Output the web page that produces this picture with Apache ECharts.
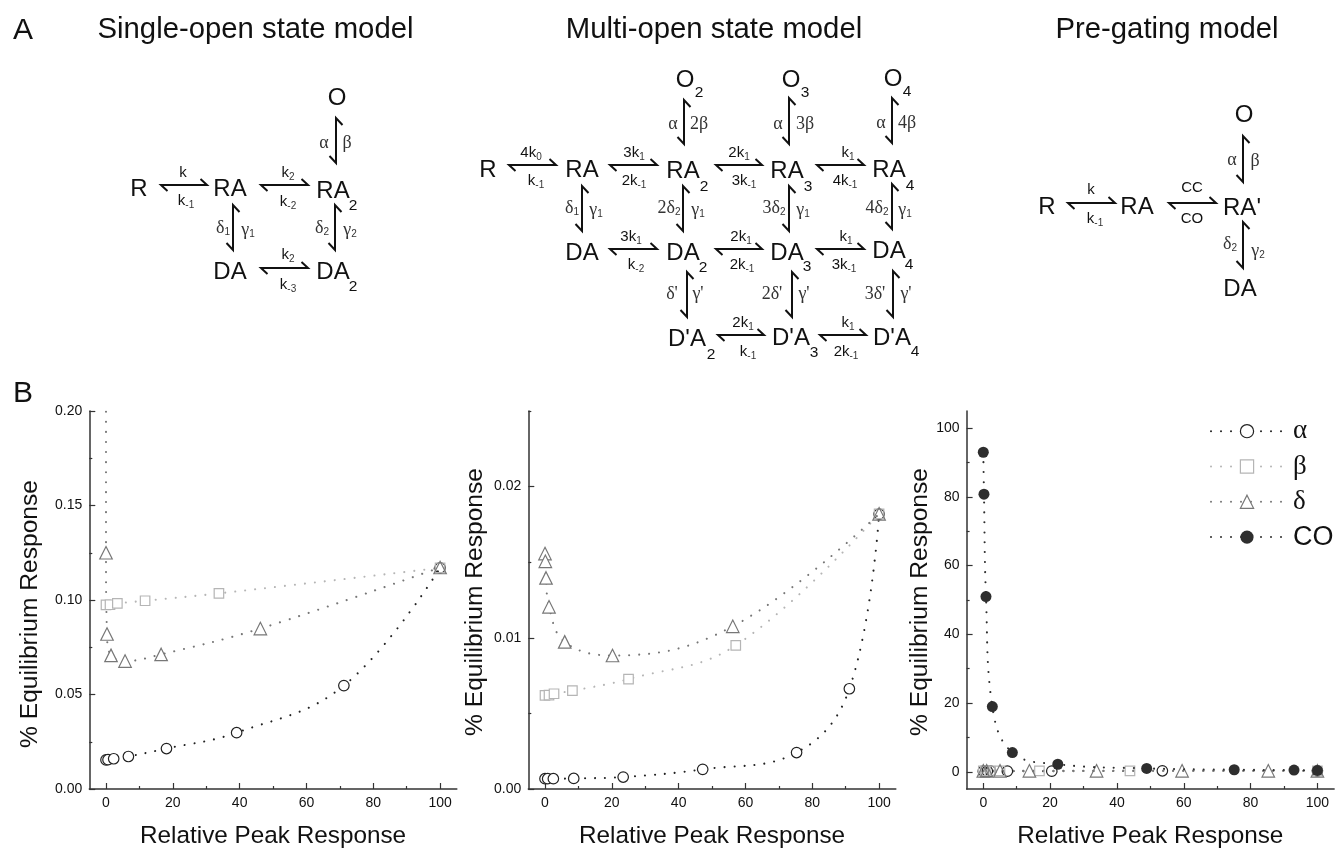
<!DOCTYPE html>
<html><head><meta charset="utf-8">
<style>html,body{margin:0;padding:0;background:#fff}#c{width:1338px;height:849px}</style>
<script src="https://cdn.jsdelivr.net/npm/echarts@6/dist/echarts.min.js"></script>
</head><body><div id="c"></div>
<script>
// ---- chart values (x = relative peak response, y = % equilibrium response) ----
const p1Alpha = [[0,0.0154],[0.6,0.0155],[2.3,0.016],[6.7,0.0172],[18.1,0.0214],[39.1,0.0298],[71.2,0.0547],[100,0.117]];
const p1Beta  = [[0,0.0974],[1.2,0.0975],[3.4,0.0982],[11.7,0.0996],[33.8,0.1035],[100,0.117]];
const p1Delta = [[0,0.3],[0,0.125],[0.3,0.082],[1.5,0.0707],[5.7,0.0677],[16.5,0.0712],[46.2,0.0849],[100,0.1172]];
const p2Alpha = [[0,0.00068],[0.8,0.00068],[2.5,0.00068],[8.6,0.0007],[23.4,0.00079],[47.2,0.0013],[75.3,0.00241],[91.1,0.00663],[100,0.01818]];
const p2Beta  = [[0,0.00619],[1.2,0.00621],[2.7,0.0063],[8.2,0.0065],[25,0.00727],[57.1,0.0095],[100,0.0182]];
const p2Delta = [[0,0.01557],[0.1,0.01506],[0.3,0.01396],[1.2,0.01205],[5.9,0.00973],[20.2,0.00883],[56.2,0.01076],[100,0.0182]];
const p3Alpha = [[0,0.2],[1.2,0.2],[2.2,0.2],[7.2,0.2],[20.5,0.2],[53.6,0.3],[100,0.3]];
const p3Beta  = [[0,0.3],[0.6,0.3],[2,0.3],[5,0.3],[16.8,0.3],[43.9,0.3],[100,0.3]];
const p3Delta = [[0,0.3],[1,0.3],[5,0.3],[13.8,0.3],[33.9,0.3],[59.5,0.3],[85.3,0.3],[100,0.3]];
const p3CO    = [[0,93],[0.2,80.8],[0.8,51],[2.7,19],[8.7,5.6],[22.3,2.2],[48.9,1],[75.1,0.6],[93,0.5],[100,0.4]];
const xMajor = [0,20,40,60,80,100];
const xMinor = [10,30,50,70,90];
const y1Major = [0,0.05,0.10,0.15,0.20];
const y1Minor = [0.025,0.075,0.125,0.175];
const y2Major = [0,0.01,0.02];
const y2Minor = [0.005,0.015,0.025];
const y3Major = [0,20,40,60,80,100];
const y3Minor = [10,30,50,70,90];
const xName = 'Relative Peak Response';
const yName = '% Equilibrium Response';
const seriesNames = ['α','β','δ','CO'];

const SANS = '"Liberation Sans", Arial, sans-serif';
const SERIF = '"Liberation Serif", "Times New Roman", serif';
const INK = '#111';
const AXIS = '#333';
const colors = {'α':'#222','β':'#b5b5b5','δ':'#777','CO':'#2e2e2e'};
const symbols = {'α':'circle','β':'rect','δ':'triangle','CO':'circle'};
const sizes = {'α':10.5,'β':9.5,'δ':12.5,'CO':11};
const CLEAR = 'rgba(255,255,255,0)';

const panels = [
  {left:89.3, major:y1Major, minor:y1Minor, min:0, max:0.20, fmt:v=>v.toFixed(2), gap:59, shift:28, solid:true,
   data:{'α':p1Alpha,'β':p1Beta,'δ':p1Delta}},
  {left:528.3, major:y2Major, minor:y2Minor, min:0, max:0.025, fmt:v=>v.toFixed(2), gap:53, shift:4, solid:true,
   data:{'α':p2Alpha,'β':p2Beta,'δ':p2Delta}},
  {left:966.6, major:y3Major, minor:y3Minor, min:-5, max:105, fmt:v=>String(v), gap:45, shift:4, solid:false,
   data:{'α':p3Alpha,'β':p3Beta,'δ':p3Delta,'CO':p3CO}}
];

const grid=[],xAxis=[],yAxis=[],series=[];
panels.forEach((p,i)=>{
  grid.push({left:p.left,top:411,width:367.5,height:380});
  const line={show:true,onZero:false,lineStyle:{color:AXIS,width:1.5}};
  xAxis.push({type:'value',gridIndex:i,position:'bottom',min:-5,max:105,splitLine:{show:false},
    axisLine:line,axisTick:{show:true,inside:true,length:6,customValues:xMajor,lineStyle:{color:AXIS,width:1.2}},
    axisLabel:{show:true,customValues:xMajor,margin:7,fontFamily:SANS,fontSize:14,color:INK,formatter:v=>String(v)},
    name:xName,nameLocation:'middle',nameGap:35,nameTextStyle:{fontFamily:SANS,fontSize:24.3,color:INK}});
  xAxis.push({type:'value',gridIndex:i,position:'bottom',min:-5,max:105,splitLine:{show:false},
    axisLine:{show:false,onZero:false},axisLabel:{show:false},
    axisTick:{show:true,inside:true,length:3,customValues:xMinor,lineStyle:{color:AXIS,width:1.2}}});
  yAxis.push({type:'value',gridIndex:i,position:'left',min:p.min,max:p.max,splitLine:{show:false},
    axisLine:line,axisTick:{show:true,inside:true,length:6,customValues:p.major,lineStyle:{color:AXIS,width:1.2}},
    axisLabel:{show:true,customValues:p.major,margin:7,fontFamily:SANS,fontSize:14,color:INK,formatter:p.fmt},
    name:yName,nameLocation:'middle',nameGap:p.gap-12,nameRotate:90,
    nameTextStyle:{fontFamily:SANS,fontSize:24.6,color:INK,padding:[0,p.shift,0,0]}});
  yAxis.push({type:'value',gridIndex:i,position:'left',min:p.min,max:p.max,splitLine:{show:false},
    axisLine:{show:false,onZero:false},axisLabel:{show:false},
    axisTick:{show:true,inside:true,length:3,customValues:p.minor,lineStyle:{color:AXIS,width:1.2}}});
  Object.keys(p.data).forEach(n=>{
    const filled=n==='CO';
    const pts=p.data[n];
    const data=pts.map((d,k)=>({value:d,itemStyle:{color:filled?colors[n]:(p.solid&&k<pts.length-1?'#fff':CLEAR)}}));
    series.push({type:'line',name:n,xAxisIndex:i*2,yAxisIndex:i*2,data,smooth:0.4,clip:true,
      symbol:symbols[n],symbolSize:sizes[n],showSymbol:true,showAllSymbol:true,silent:true,animation:false,
      lineStyle:{color:colors[n],width:2.1,type:[0.01,9.99],cap:'round'},
      itemStyle:{color:colors[n],borderColor:colors[n],borderWidth:filled?0:1.2,opacity:1},
      z:filled?4:3});
  });
});

// ---- reaction schemes (annotation text and arrows) ----
const g=[];
function txt(x,y,s,size,font,fill){g.push({type:'text',x,y:y+1,silent:true,style:{text:s,fontSize:size,fontFamily:font||SANS,fill:fill||INK,align:'center',verticalAlign:'middle'}});}
function state(x,y,s,subx,suby,sub){txt(x,y,s,24);if(sub)txt(subx,suby,sub,15.5);}
function rate(x,y,s,sub,serif){
  const f=serif?SERIF:SANS,sz=serif?18:15,fill=serif?'#333':INK;
  g.push({type:'text',x,y:y+1,silent:true,style:{text:sub?'{b|'+s+'}{s|'+sub+'}':'{b|'+s+'}',align:'center',verticalAlign:'middle',
    rich:{b:{fontSize:sz,fontFamily:f,fill,height:18,lineHeight:18},s:{fontSize:10,fontFamily:SANS,fill:'#333',padding:[9,0,0,0]}}}});
}
function harrow(x1,x2,y){g.push({type:'polyline',silent:true,shape:{points:[[x1+6.5,y+6],[x1,y],[x2,y],[x2-6.5,y-6]]},style:{stroke:'#111',lineWidth:2,fill:null}});}
function varrow(x,y1,y2){g.push({type:'polyline',silent:true,shape:{points:[[x+6.5,y1+7],[x,y1],[x,y2],[x-6.5,y2-7]]},style:{stroke:'#111',lineWidth:2,fill:null}});}

txt(23,30,'A',30); txt(23,393,'B',30);
txt(255.5,29,'Single-open state model',29.3);
txt(714,29,'Multi-open state model',29.3);
txt(1167,29,'Pre-gating model',29.3);

// single-open
state(139,188,'R');state(230,188,'RA');state(333,190,'RA',353,205,'2');state(337,97,'O');
state(230,271,'DA');state(333,271,'DA',353,286,'2');
harrow(161,207,185);rate(183,172,'k');rate(186,200,'k','-1');
harrow(261,308,185);rate(288,172,'k','2');rate(288,201,'k','-2');
harrow(261,308,268);rate(288,254,'k','2');rate(288,284,'k','-3');
varrow(233,205,250);rate(223,227,'δ','1',true);rate(248,229,'γ','1',true);
varrow(335,205,250);rate(322,227,'δ','2',true);rate(350,229,'γ','2',true);
varrow(336,118,163);rate(324,142,'α','',true);rate(347,142,'β','',true);

// multi-open
state(488,169,'R');state(582,169,'RA');
state(683,170,'RA',704,186,'2');state(787,170,'RA',808,186,'3');state(889,169,'RA',910,185,'4');
state(685,79,'O',699,92,'2');state(791,79,'O',805,92,'3');state(893,78,'O',907,91,'4');
state(582,252,'DA');state(683,252,'DA',703,267,'2');state(787,252,'DA',807,266,'3');state(889,250,'DA',909,264,'4');
state(687,338,"D'A",711,354,'2');state(791,337,"D'A",814,352,'3');state(892,337,"D'A",915,351,'4');
harrow(509,556,165);harrow(610,657,165);harrow(716,762,165);harrow(817,864,165);
harrow(610,657,249);harrow(716,762,249);harrow(817,864,249);
harrow(718,764,335);harrow(820,866,335);
rate(531,152,'4k','0');rate(536,180,'k','-1');
rate(634,152,'3k','1');rate(634,180,'2k','-1');
rate(739,152,'2k','1');rate(744,180,'3k','-1');
rate(848,152,'k','1');rate(845,180,'4k','-1');
rate(631,236,'3k','1');rate(636,264,'k','-2');
rate(741,236,'2k','1');rate(742,264,'2k','-1');
rate(846,236,'k','1');rate(844,264,'3k','-1');
rate(743,322,'2k','1');rate(748,351,'k','-1');
rate(848,322,'k','1');rate(846,351,'2k','-1');
varrow(684,100,144);varrow(789,98,144);varrow(892,98,143);
rate(673,123,'α','',true);rate(699,123,'2β','',true);rate(778,123,'α','',true);rate(805,123,'3β','',true);rate(881,122,'α','',true);rate(907,122,'4β','',true);
varrow(582,186,231);varrow(683,186,231);varrow(789,186,231);varrow(892,184,229);
rate(572,207,'δ','1',true);rate(596,209,'γ','1',true);rate(669,207,'2δ','2',true);rate(698,209,'γ','1',true);
rate(774,207,'3δ','2',true);rate(803,209,'γ','1',true);rate(877,207,'4δ','2',true);rate(905,209,'γ','1',true);
varrow(687,272,317);varrow(792,272,317);varrow(893,271,317);
rate(672,293,"δ'",'',true);rate(698,293,"γ'",'',true);rate(772,293,"2δ'",'',true);rate(804,293,"γ'",'',true);rate(875,293,"3δ'",'',true);rate(906,293,"γ'",'',true);

// pre-gating
state(1047,206,'R');state(1137,206,'RA');state(1242,207,"RA'");state(1244,114,'O');state(1240,288,'DA');
harrow(1068,1115,203);harrow(1169,1216,203);
rate(1091,189,'k');rate(1095,218,'k','-1');
rate(1192,187,'CC');rate(1192,218,'CO');
varrow(1243,136,182);varrow(1243,222,268);
rate(1232,159,'α','',true);rate(1255,160,'β','',true);
rate(1230,243,'δ','2',true);rate(1258,250,'γ','2',true);

const legendFonts={'α':[SERIF,27],'β':[SERIF,27],'δ':[SERIF,27],'CO':[SANS,27]};
const option={
  animation:false,backgroundColor:'#fff',grid,xAxis,yAxis,series,graphic:{elements:g},
  legend:{show:true,orient:'vertical',left:1210,top:413.5,padding:0,itemWidth:72,itemHeight:16.5,itemGap:0,selectedMode:false,
    data:seriesNames.map(n=>({name:n,itemStyle:{color:n==='CO'?colors[n]:'#fff',borderColor:colors[n],borderWidth:n==='CO'?0:1.2},
      textStyle:{fontFamily:legendFonts[n][0],fontSize:legendFonts[n][1],lineHeight:35.3,color:INK,padding:[0,0,0,5]}}))}
};
echarts.init(document.getElementById('c'),null,{renderer:'canvas'}).setOption(option);
</script></body></html>
